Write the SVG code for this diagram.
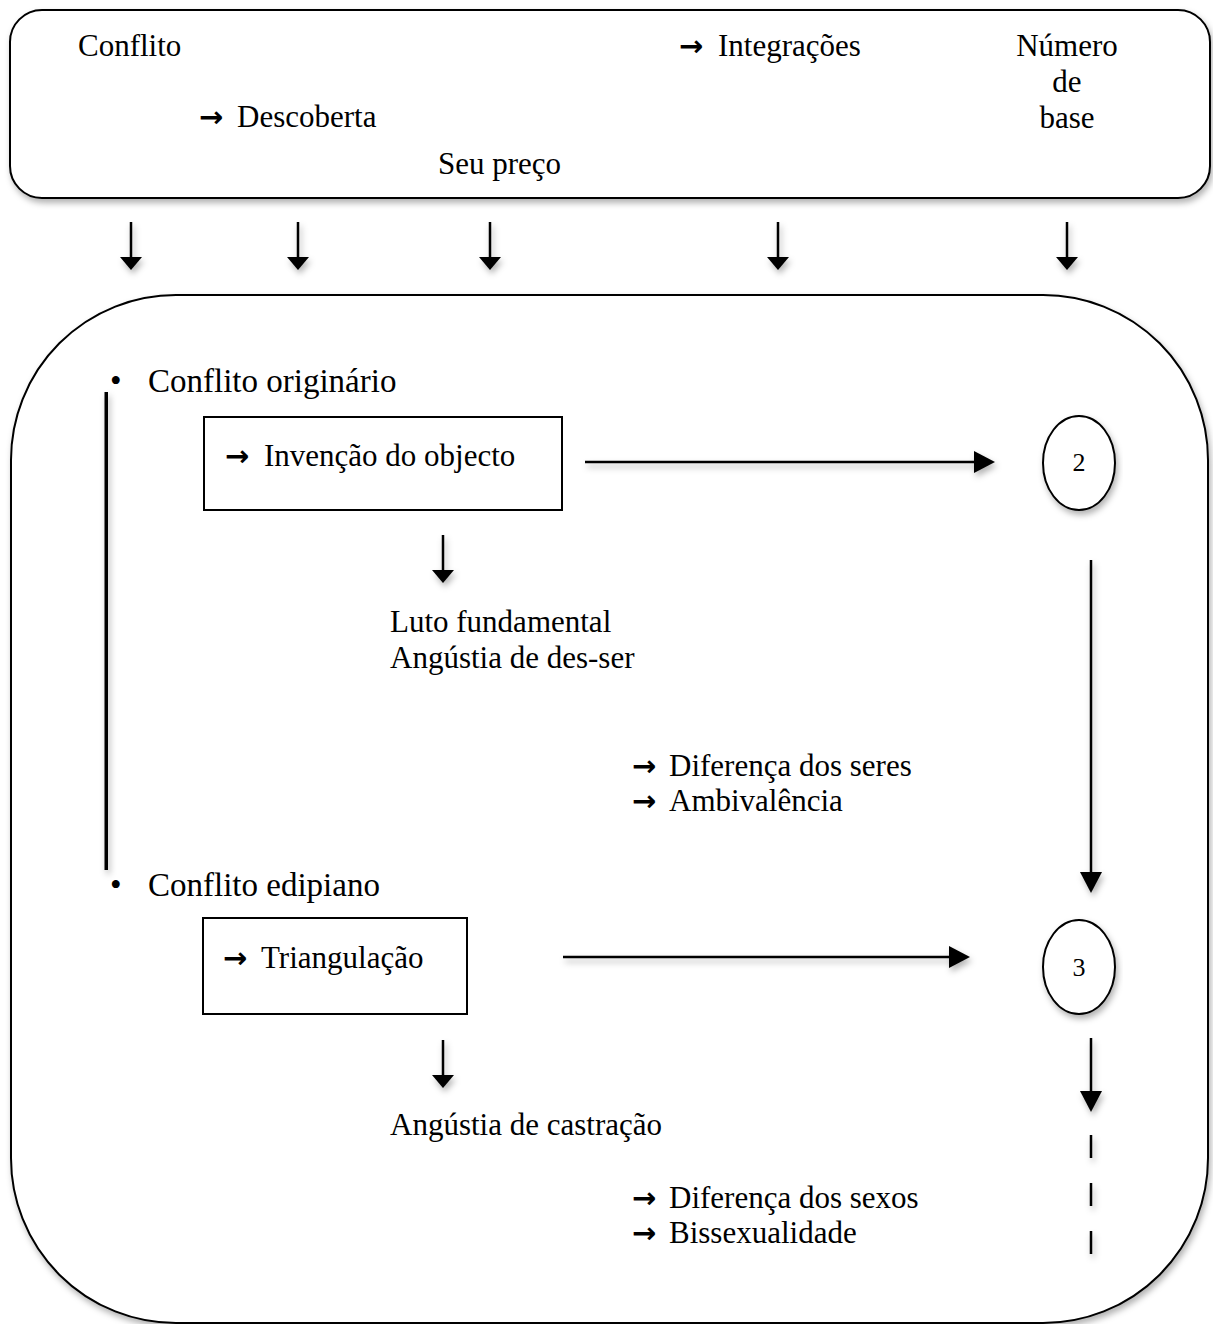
<svg xmlns="http://www.w3.org/2000/svg" width="1213" height="1324" viewBox="0 0 1213 1324">
<defs>
<filter id="sh" x="-10%" y="-10%" width="120%" height="130%">
<feDropShadow dx="2" dy="4" stdDeviation="3" flood-color="#000" flood-opacity="0.3"/>
</filter>
<filter id="shu" filterUnits="userSpaceOnUse" x="0" y="0" width="1213" height="1324">
<feDropShadow dx="2" dy="4" stdDeviation="3" flood-color="#000" flood-opacity="0.3"/>
</filter>
<marker id="as" viewBox="0 0 13 22" markerWidth="13" markerHeight="22" refX="8" refY="11" orient="auto" markerUnits="userSpaceOnUse">
<path d="M0,0 L13,11 L0,22 z" fill="#000"/>
</marker>
<marker id="al" viewBox="0 0 21 22" markerWidth="21" markerHeight="22" refX="16" refY="11" orient="auto" markerUnits="userSpaceOnUse">
<path d="M0,0 L21,11 L0,22 z" fill="#000"/>
</marker>
</defs>
<style>
text{font-family:"Liberation Serif","Times New Roman",serif;fill:#000}
.t{font-size:31px}
.c{font-size:33px}
.n{font-size:26px}
.ar{font-family:"DejaVu Sans",sans-serif;font-size:29px;font-weight:bold}
.box{fill:#fff;stroke:#000;stroke-width:2}
.ln{stroke:#000;stroke-width:2.5;fill:none}
</style>
<rect width="1213" height="1324" fill="#fff"/>

<g id="top-box">
<rect class="box" x="10" y="10" width="1200" height="188" rx="32" ry="32" filter="url(#sh)"/>
<text class="t" x="78" y="56">Conflito</text>
<text class="t" x="199" y="127"><tspan class="ar">→ </tspan><tspan x="237">Descoberta</tspan></text>
<text class="t" x="438" y="174">Seu preço</text>
<text class="t" x="679" y="56"><tspan class="ar">→ </tspan><tspan x="718">Integrações</tspan></text>
<text class="t" text-anchor="middle"><tspan x="1067" y="56">Número</tspan><tspan x="1067" y="92">de</tspan><tspan x="1067" y="128">base</tspan></text>
</g>

<g id="main-box">
<rect class="box" x="11" y="295" width="1197" height="1028" rx="165" ry="165" filter="url(#sh)"/>
</g>

<g id="bar">
<rect x="104.5" y="392" width="3.5" height="478" fill="#000" filter="url(#shu)"/>
</g>

<g id="conflito-originario">
<text class="c" x="110" y="392">•</text>
<text class="c" x="148" y="392">Conflito originário</text>
</g>

<g id="invencao">
<rect class="box" x="204" y="417" width="358" height="93"/>
<text class="t" x="225" y="466"><tspan class="ar">→ </tspan><tspan x="264">Invenção do objecto</tspan></text>
</g>

<g id="circle-2">
<ellipse class="box" cx="1079" cy="463" rx="36" ry="47" stroke-width="1.8" filter="url(#sh)"/>
<text class="n" x="1079" y="471" text-anchor="middle">2</text>
</g>

<g id="luto">
<text class="t" x="390" y="632">Luto fundamental</text>
<text class="t" x="390" y="668">Angústia de des-ser</text>
</g>

<g id="diferenca-seres">
<text class="t" x="632" y="776"><tspan class="ar">→ </tspan><tspan x="669">Diferença dos seres</tspan></text>
<text class="t" x="632" y="811"><tspan class="ar">→ </tspan><tspan x="669">Ambivalência</tspan></text>
</g>

<g id="conflito-edipiano">
<text class="c" x="110" y="896">•</text>
<text class="c" x="148" y="896">Conflito edipiano</text>
</g>

<g id="triangulacao">
<rect class="box" x="203" y="918" width="264" height="96"/>
<text class="t" x="223" y="968"><tspan class="ar">→ </tspan><tspan x="261">Triangulação</tspan></text>
</g>

<g id="circle-3">
<ellipse class="box" cx="1079" cy="967" rx="36" ry="47" stroke-width="1.8" filter="url(#sh)"/>
<text class="n" x="1079" y="976" text-anchor="middle">3</text>
</g>

<g id="castracao">
<text class="t" x="390" y="1135">Angústia de castração</text>
</g>

<g id="diferenca-sexos">
<text class="t" x="632" y="1208"><tspan class="ar">→ </tspan><tspan x="669">Diferença dos sexos</tspan></text>
<text class="t" x="632" y="1243"><tspan class="ar">→ </tspan><tspan x="669">Bissexualidade</tspan></text>
</g>

<g id="connectors" filter="url(#shu)">
<line class="ln" x1="131" y1="222" x2="131" y2="265" marker-end="url(#as)"/>
<line class="ln" x1="298" y1="222" x2="298" y2="265" marker-end="url(#as)"/>
<line class="ln" x1="490" y1="222" x2="490" y2="265" marker-end="url(#as)"/>
<line class="ln" x1="778" y1="222" x2="778" y2="265" marker-end="url(#as)"/>
<line class="ln" x1="1067" y1="222" x2="1067" y2="265" marker-end="url(#as)"/>
<line class="ln" x1="443" y1="535" x2="443" y2="578" marker-end="url(#as)"/>
<line class="ln" x1="443" y1="1040" x2="443" y2="1083" marker-end="url(#as)"/>
<line class="ln" x1="585" y1="462" x2="990" y2="462" marker-end="url(#al)"/>
<line class="ln" x1="563" y1="957" x2="965" y2="957" marker-end="url(#al)"/>
<line class="ln" x1="1091" y1="560" x2="1091" y2="888" marker-end="url(#al)"/>
<line class="ln" x1="1091" y1="1038" x2="1091" y2="1107" marker-end="url(#al)"/>
<line class="ln" x1="1091" y1="1135" x2="1091" y2="1256" stroke-dasharray="23 25"/>
</g>
</svg>
